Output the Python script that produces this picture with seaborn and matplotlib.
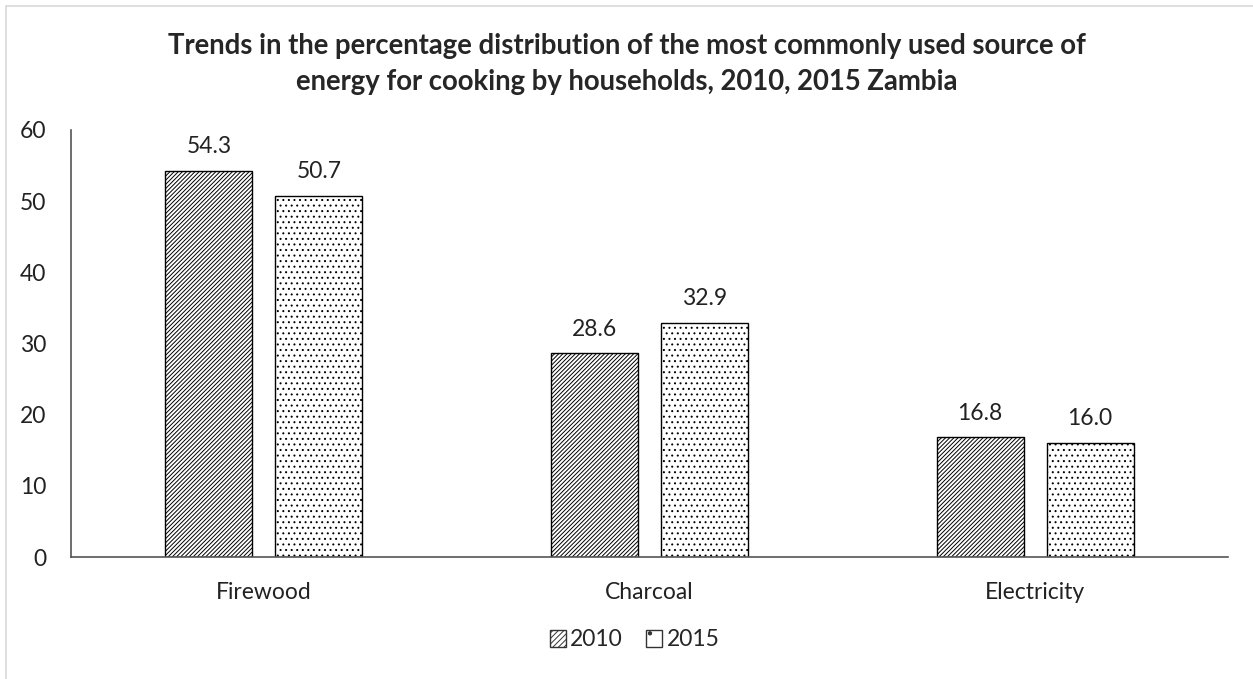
import pandas as pd
import matplotlib.pyplot as plt
import seaborn as sns
from matplotlib.lines import Line2D
from matplotlib.patches import Patch

# data
sources = ["Firewood", "Charcoal", "Electricity"]
years = ["2010", "2015"]
vals_2010 = [54.3, 28.6, 16.8]
vals_2015 = [50.7, 32.9, 16.0]

df = pd.DataFrame({
    "source": sources * 2,
    "year": [years[0]] * 3 + [years[1]] * 3,
    "pct": vals_2010 + vals_2015,
})

sns.set_theme(style="white")
plt.rcParams["font.family"] = ["Lato", "DejaVu Sans"]
plt.rcParams["hatch.color"] = "#444444"
plt.rcParams["hatch.linewidth"] = 0.7

fig = plt.figure(figsize=(12.53, 6.79), dpi=100)
ax = fig.add_axes([71 / 1253, 1 - 557 / 679, (1228 - 71) / 1253, (557 - 130) / 679])

sns.barplot(data=df, x="source", y="pct", hue="year", order=sources,
            hue_order=years, palette=["white", "white"], width=0.57, gap=0.21,
            edgecolor="black", linewidth=1.0, ax=ax, legend=False)

hatches = {"2010": "////////", "2015": "..."}
for cont, yr in zip(ax.containers, years):
    for bar in cont:
        bar.set_hatch(hatches[yr])
    ax.bar_label(cont, fmt="%.1f", padding=10, fontsize=16.5, color="#222222")

ax.set_ylim(0, 60)
ax.set_yticks(range(0, 61, 10))
ax.set_xlabel("")
ax.set_ylabel("")
ax.tick_params(axis="both", labelsize=16.5, colors="#222222", length=0)
ax.tick_params(axis="y", pad=18)
ax.tick_params(axis="x", pad=18)
for s in ["top", "right"]:
    ax.spines[s].set_visible(False)
for s in ["left", "bottom"]:
    ax.spines[s].set_color("#555555")
    ax.spines[s].set_linewidth(1.2)

fig.suptitle("Trends in the percentage distribution of the most commonly used source of\n"
             "energy for cooking by households, 2010, 2015 Zambia",
             x=0.5, y=0.952, fontsize=19.8, fontweight="bold", linespacing=1.5)

handles = [Patch(facecolor="white", edgecolor="#333333", hatch="//////", label="2010"),
           Patch(facecolor="white", edgecolor="#333333", hatch=".", label="2015")]
fig.legend(handles=handles, loc="center", bbox_to_anchor=(0.5 + 8 / 1253, 1 - 640 / 679),
           ncol=2, frameon=False, fontsize=16.5, handlelength=0.7, handleheight=0.7,
           handletextpad=0.2, columnspacing=1.0)

# light frame of the chart area
fig.add_artist(Line2D([6 / 1253, 6 / 1253], [0, 1 - 6 / 679], transform=fig.transFigure,
                      color="#d9d9d9", lw=1.2))
fig.add_artist(Line2D([6 / 1253, 1], [1 - 6 / 679, 1 - 6 / 679], transform=fig.transFigure,
                      color="#d9d9d9", lw=1.2))

fig.savefig("out.png", dpi=100)
